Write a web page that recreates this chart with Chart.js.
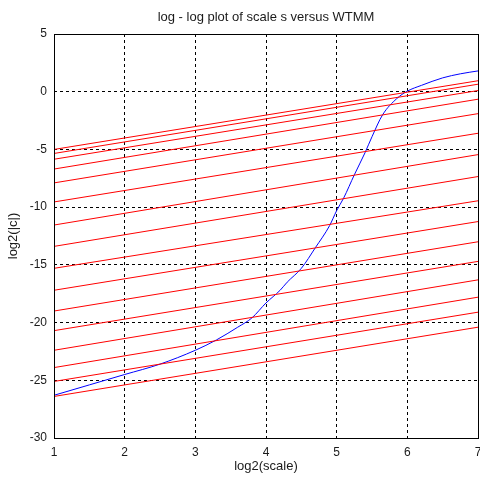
<!DOCTYPE html>
<html>
<head>
<meta charset="UTF-8">
<title>log - log plot of scale s versus WTMM</title>
<script src="https://cdn.jsdelivr.net/npm/chart.js"></script>
<style>
  html, body { margin: 0; padding: 0; background: #fff; overflow: hidden; }
  #wrap { width: 480px; height: 483px; position: relative; }
</style>
</head>
<body>
<div id="wrap"><canvas id="wtmmChart"></canvas></div>
<script>
    // x positions of the fitted red lines (they run across the whole axis)
    const lineEnds = [1, 7];
    // red lines: value at x = 1 and at x = 7
    const redLeft  = [-5.0, -5.35, -5.85, -6.7, -7.9, -9.55, -11.55, -13.4, -15.3, -17.2, -19.0, -20.7, -22.4, -23.9, -25.1, -26.4];
    const redRight = [0.95, 0.65, 0.1, -0.65, -1.9, -3.6, -5.45, -7.35, -9.45, -11.25, -13.0, -14.7, -16.3, -17.8, -19.1, -20.4];

    // blue curve: log2(|c|) against log2(scale)
    const blueX = [1, 1.5, 2, 2.5, 3, 3.3, 3.6, 3.8, 4, 4.2, 4.3, 4.5, 4.7, 4.9, 5, 5.1, 5.25, 5.4, 5.5, 5.65, 5.85, 6, 6.2, 6.5, 6.75, 7];
    const blueY = [-26.3, -25.4, -24.5, -23.6, -22.4, -21.5, -20.4, -19.6, -18.3, -17.2, -16.5, -15.3, -13.5, -11.6, -10.3, -9.2, -7.2, -5.3, -3.9, -2.0, -0.6, 0.05, 0.55, 1.2, 1.55, 1.8];

    const xTicks = [1, 2, 3, 4, 5, 6, 7];
    const yTicks = [5, 0, -5, -10, -15, -20, -25, -30];

    const fontName = "'Liberation Sans', Arial, sans-serif";
    const textColor = '#1a1a1a';

    const datasets = redLeft.map(function (v, i) {
        return {
            data: [{x: lineEnds[0], y: v}, {x: lineEnds[1], y: redRight[i]}],
            borderColor: '#ff0000',
            borderWidth: 1,
            pointRadius: 0,
            showLine: true
        };
    });
    datasets.push({
        data: blueX.map(function (x, i) { return {x: x, y: blueY[i]}; }),
        borderColor: '#0000ff',
        borderWidth: 1,
        pointRadius: 0,
        showLine: true,
        cubicInterpolationMode: 'monotone'
    });

    // title above the plot + solid box round the axes (matlab style)
    const boxPlugin = {
        id: 'boxPlugin',
        afterDatasetsDraw(chart) {
            const a = chart.chartArea;
            const ctx = chart.ctx;
            ctx.save();
            ctx.strokeStyle = '#000';
            ctx.lineWidth = 1;
            ctx.strokeRect(Math.round(a.left) + 0.5, Math.round(a.top) + 0.5,
                Math.round(a.right - a.left), Math.round(a.bottom - a.top));
            ctx.fillStyle = textColor;
            ctx.font = '13px ' + fontName;
            ctx.textAlign = 'center';
            ctx.textBaseline = 'middle';
            ctx.fillText('log - log plot of scale s versus WTMM', (a.left + a.right) / 2, 17);
            ctx.restore();
        }
    };

    const ctx = document.getElementById('wtmmChart').getContext('2d');
    new Chart(ctx, {
        type: 'scatter',
        data: { datasets: datasets },
        options: {
            responsive: true,
            maintainAspectRatio: false,
            animation: false,
            layout: { padding: { top: 34, right: 2, left: 0, bottom: 0 } },
            plugins: { legend: { display: false }, tooltip: { enabled: false } },
            scales: {
                x: {
                    type: 'linear',
                    min: 1, max: 7,
                    afterBuildTicks: function (s) { s.ticks = xTicks.map(function (v) { return {value: v}; }); },
                    afterFit: function (s) { s.height = 45; s.paddingLeft = 0; s.paddingRight = 0; },
                    grid: { color: '#000', lineWidth: 1, drawTicks: false },
                    border: { display: false, dash: [3, 3] },
                    ticks: { color: textColor, font: { family: fontName, size: 12 }, padding: 7, maxRotation: 0 },
                    title: { display: true, text: 'log2(scale)', color: textColor,
                             font: { family: fontName, size: 13 }, padding: { top: 0, bottom: 9 } }
                },
                y: {
                    type: 'linear',
                    min: -30, max: 5,
                    afterBuildTicks: function (s) { s.ticks = yTicks.map(function (v) { return {value: v}; }); },
                    afterFit: function (s) { s.width = 54; s.paddingTop = 0; s.paddingBottom = 0; },
                    grid: { color: '#000', lineWidth: 1, drawTicks: false },
                    border: { display: false, dash: [3, 3] },
                    ticks: { color: textColor, font: { family: fontName, size: 12 }, padding: 7 },
                    title: { display: true, text: 'log2(|c|)', color: textColor,
                             font: { family: fontName, size: 13 }, padding: { top: 6, bottom: 0 } }
                }
            }
        },
        plugins: [boxPlugin]
    });
</script>
</body>
</html>
